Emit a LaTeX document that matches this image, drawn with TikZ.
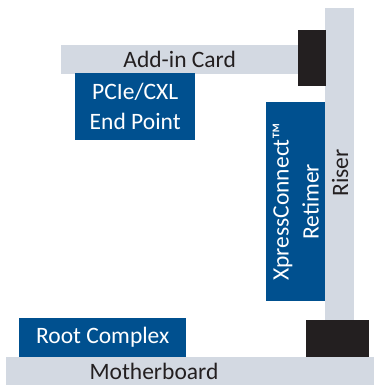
\documentclass[tikz,border=0pt]{standalone}
\usepackage{fontspec}
\setmainfont{Carlito}
\definecolor{boardgray}{HTML}{D3D9E2}
\definecolor{chipblue}{HTML}{00508F}
\definecolor{connblack}{HTML}{231F20}

\begin{document}
\begin{tikzpicture}[x=1pt,y=-1pt,
  board/.style={fill=boardgray,inner sep=0pt,anchor=north west,text=connblack},
  chip/.style={fill=chipblue,inner sep=0pt,anchor=north west,text=white,align=center},
  conn/.style={fill=connblack,inner sep=0pt,anchor=north west},
  every node/.style={font=\fontsize{23.5}{30}\selectfont}]
  \useasboundingbox (0,0) rectangle (374,385);
  % BOARDS
  \node[board,minimum width=29,minimum height=312] (riser) at (325,8) {};
  \node[board,minimum width=237,minimum height=29] (card) at (61,45) {Add-in Card};
  \node[board,minimum width=368,minimum height=28] (mobo) at (6,357) {};
  \node[text=connblack] (mobolabel) at (154,371) {Motherboard};
  \node[text=connblack,rotate=90] (riserlabel) at (340,173) {Riser};
  % CONNECTORS
  \node[conn,minimum width=28,minimum height=56] (slottop) at (298,30) {};
  \node[conn,minimum width=63,minimum height=37] (slotbot) at (306,320) {};
  % CHIPS
  \node[chip,minimum width=120,minimum height=67] (endpoint) at (75,73) {PCIe/CXL\\End Point};
  \node[chip,minimum width=167,minimum height=39] (root) at (19,318) {Root Complex};
  \node[chip,minimum width=59,minimum height=199] (retimer) at (266,102) {};
  \node[text=white,align=center,rotate=90] (retimerlabel) at (retimer.center) {XpressConnect™\\Retimer};
\end{tikzpicture}
\end{document}
